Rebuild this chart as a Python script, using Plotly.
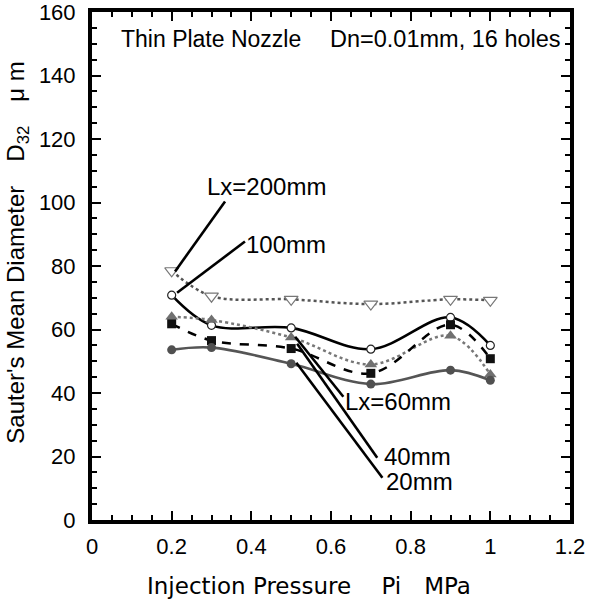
import plotly.graph_objects as go

# ---- data ----
pressure = [0.2, 0.3, 0.5, 0.7, 0.9, 1.0]
d32_lx200 = [78.5, 70.5, 69.5, 68.0, 69.5, 69.2]
d32_lx100 = [70.8, 61.3, 60.5, 53.8, 63.8, 55.0]
d32_lx60 = [64.0, 63.0, 57.5, 49.0, 58.0, 45.8]
d32_lx40 = [61.8, 56.5, 54.0, 46.2, 61.5, 50.8]
d32_lx20 = [53.6, 54.3, 49.2, 42.8, 47.2, 44.0]

series_names = ["Lx=200mm", "100mm", "Lx=60mm", "40mm", "20mm"]

FONT = "Liberation Sans, Arial, sans-serif"
FONT_X = "DejaVu Sans, sans-serif"

fig = go.Figure()

styles = [
    (d32_lx200, dict(color="#555555", width=2.5, dash="dot"),
     dict(symbol="triangle-down", size=12, color="white", line=dict(color="#777777", width=1.2))),
    (d32_lx100, dict(color="black", width=2.6),
     dict(symbol="circle", size=8, color="white", line=dict(color="#222222", width=1.2))),
    (d32_lx60, dict(color="#777777", width=2.5, dash="dot"),
     dict(symbol="triangle-up", size=11, color="#707070", line=dict(width=0))),
    (d32_lx40, dict(color="black", width=2.5, dash="dash"),
     dict(symbol="square", size=9, color="#111111", line=dict(width=0))),
    (d32_lx20, dict(color="#555555", width=2.6),
     dict(symbol="circle", size=9, color="#505050", line=dict(width=0))),
]

for name, (vals, ln, mk) in zip(series_names, styles):
    fig.add_trace(go.Scatter(
        x=pressure, y=vals, mode="lines+markers", name=name,
        line=dict(shape="spline", smoothing=1.0, **ln),
        marker=mk, showlegend=False,
    ))

# leader lines (from data point to label) and labels
leaders = [
    ((0.2085, 78.3), (0.334, 100.3)),
    ((0.2136, 71.6), (0.384, 87.7)),
    ((0.51, 57.7), (0.631, 38.8)),
    ((0.515, 55.5), (0.716, 19.6)),
    ((0.513, 49.5), (0.729, 13.3)),
]
label_pos = [(0.593, 105.1), (0.593, 86.8), (0.907, 37.2), (0.907, 19.9), (0.912, 12.0)]

for (p0, p1) in leaders:
    fig.add_shape(type="line", x0=p0[0], y0=p0[1], x1=p1[0], y1=p1[1],
                  xref="x", yref="y", line=dict(color="black", width=2.6))

for name, (lx, ly) in zip(series_names, label_pos):
    fig.add_annotation(x=lx, y=ly, xref="x", yref="y", text=name, showarrow=False,
                       xanchor="right", yanchor="middle",
                       font=dict(family=FONT, size=24, color="black"))

fig.add_annotation(x=0.068, y=151.5, xref="x", yref="y", text="Thin Plate Nozzle",
                   showarrow=False, xanchor="left", yanchor="middle",
                   font=dict(family=FONT, size=23, color="black"))
fig.add_annotation(x=1.183, y=151.5, xref="x", yref="y", text="Dn=0.01mm, 16 holes",
                   showarrow=False, xanchor="right", yanchor="middle",
                   font=dict(family=FONT, size=23.5, color="black"))

# axis titles
fig.add_annotation(x=-0.155, y=0.528, xref="paper", yref="paper",
                   text="Sauter's Mean Diameter&#8195;D<sub>32</sub>&#8195;\u03bc m",
                   textangle=-90, showarrow=False, xanchor="center", yanchor="middle",
                   font=dict(family=FONT, size=24, color="black"))
fig.add_annotation(x=0.455, y=-0.13, xref="paper", yref="paper",
                   text="Injection Pressure&#8195; Pi&#8195;MPa",
                   showarrow=False, xanchor="center", yanchor="middle",
                   font=dict(family=FONT_X, size=23, color="black"))

axis_common = dict(
    showline=True, linecolor="black", linewidth=4, mirror="ticks",
    ticks="inside", ticklen=9, tickwidth=2, tickcolor="black",
    showgrid=False, zeroline=False, automargin=False,
    ticklabeloverflow="allow",
    tickfont=dict(family=FONT, size=22, color="black"),
)

fig.update_xaxes(
    range=[0, 1.2], dtick=0.2, tick0=0,
    minor=dict(dtick=0.05, ticks="inside", ticklen=5, tickwidth=2, tickcolor="black", showgrid=False),
    ticklabelstandoff=4,
    **axis_common,
)
fig.update_yaxes(
    range=[0, 160], dtick=20, tick0=0,
    minor=dict(dtick=5, ticks="inside", ticklen=5, tickwidth=2, tickcolor="black", showgrid=False),
    ticklabelstandoff=8,
    **axis_common,
)

fig.update_layout(
    width=597, height=604,
    margin=dict(l=92, r=27, t=12, b=84),
    paper_bgcolor="white", plot_bgcolor="white",
)

# remove the browser's default 8px page margin so the figure fills the window
fig.write_html("out.html", config={"displayModeBar": False},
               post_script="document.body.style.margin='0';")
